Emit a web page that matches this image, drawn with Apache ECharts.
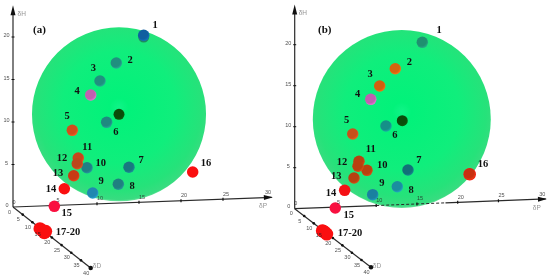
<!DOCTYPE html>
<html><head><meta charset="utf-8">
<style>html,body{margin:0;padding:0;background:#fff}#c{width:550px;height:276px}</style>
<script src="https://cdn.jsdelivr.net/npm/echarts@6/dist/echarts.min.js"></script>
</head><body><div id="c"></div>
<script>
// Point names
const names = ['1','2','3','4','5','6','7','8','9','10','11','12','13','14','15','16','','','','17-20'];
// Panel (a): projected dP position and dH value
const aP = [15.56,12.3,10.36,9.25,7.06,11.15,13.81,12.54,9.49,8.81,7.77,7.65,7.23,6.11,4.92,21.39,3.21,3.54,3.73,3.89];
const aH = [20.2,16.94,14.82,13.18,9.02,9.96,4.67,2.67,1.65,4.62,5.76,5.09,3.68,2.15,0.08,4.12,-2.55,-2.79,-3.02,-2.86];
const aColors = ['#0f5fa0','#20907f','#20907f','#c060b0','#d04e1c','#1f8a80','#187880','#1f8080','#2088b0','#207f85','#c8441c','#bc461c','#c83a14','#fa0f10','#fa1040','#fa0f10','#fa0f10','#fa0f10','#fa0f10','#fa0f10'];
const aOffsets = [[11.3,-10.3],[13.7,-3],[-6.7,-13],[-13.7,-4],[-5.3,-14.3],[9.3,10.2],[12,-6.6],[13.7,2.4],[8.3,-12],[13.7,-4.7],[9,-11],[-15.3,-5.7],[-15.7,-2.7],[-13.3,0.3],[12.4,6.7],[13.3,-9],[0,0],[0,0],[0,0],[22.3,0.7]];
// Panel (b)
const bP = [15.66,12.34,10.43,9.33,7.12,11.2,13.9,12.59,9.57,8.87,7.89,7.77,7.28,6.13,4.98,21.47,3.39,3.51,3.72,3.93];
const bH = [20.29,17.07,14.96,13.34,9.11,10.09,4.72,2.68,1.71,4.68,5.78,5.17,3.74,2.24,0.09,4.2,-2.68,-2.76,-2.88,-3.09];
const bColors = ['#1f9070','#d5640f','#d0600f','#c060b0','#c8501a','#159088','#127078','#1a8ea0','#1a80a0','#b84010','#b84010','#b84010','#b84010','#f51015','#f81040','#c83010','#fa0f10','#fa0f10','#fa0f10','#fa0f10'];
const bOffsets = [[16.7,-11.6],[14,-6],[-9.7,-11.3],[-13,-5.3],[-6,-13.3],[9,9.7],[11,-10],[13.7,3.3],[9.3,-11.7],[15.3,-5.3],[11.7,-11.6],[-16,-4.3],[-17.7,-2],[-13.7,2.7],[13.4,7.3],[13.3,-9.6],[0,0],[0,0],[0,0],[23.3,-1]];
// Solubility sphere centres / radius and centre balls
const aSphere = [12.62,10.9,10.36];
const bSphere = [13.14,10.94,10.92];
const aCentre = [12.62,10.9];
const bCentre = [13.2,10.73];
const aUnder = [15.56,20.0];
// Axis ticks
const hTicks = [5,10,15,20];
const pTicks = [10,15,20,25,30];
const pTicksMinor = [5];
const dTicks = [5,10,15,20,25,30,35,40];
// Axis geometry in axis units
const aPSlope = 0.037, bPSlope = 0.0386;
const aDStep = [1.156,-0.897], bDStep = [1.17,-0.894];
const aTop = 23.76, bTop = 24.9;

function ball(c){
  return {type:'radial',x:.42,y:.38,r:.62,colorStops:[{offset:0,color:c},{offset:.7,color:c},{offset:1,color:echarts.color.lift(c,-.2)}]};
}
const txt = (g,pts,opt)=>({type:'scatter',xAxisIndex:g,yAxisIndex:g,symbolSize:0,z:6,silent:true,
  data:pts.map(p=>({value:[p[0],p[1]],label:{show:true,position:'inside',formatter:p[2],offset:p[3]||[0,0],align:'center',verticalAlign:'middle',
    fontFamily:opt.f||'Liberation Sans',fontSize:opt.s||5.5,fontWeight:opt.w||'normal',color:opt.c||'#222'}}))});
const ln = (g,pts,w,dash)=>({type:'line',xAxisIndex:g,yAxisIndex:g,symbol:'none',silent:true,z:2,clip:false,data:pts,
  lineStyle:{color:'#2a2a2a',width:w||1.2,type:dash?[3,2]:'solid'}});

function panel(g,P,H,colors,offs,sph,centre,slope,dStep,top,tip,titles,dashed){
  const s=[];
  // sphere
  s.push({type:'custom',xAxisIndex:g,yAxisIndex:g,z:1,silent:true,clip:false,data:[sph],
    renderItem:(p,api)=>{
      const c=api.coord([api.value(0),api.value(1)]);
      const r=api.size([api.value(2),0])[0];
      return {type:'circle',shape:{cx:c[0],cy:c[1],r:r},style:{fill:{type:'radial',x:.5,y:.46,r:.54,colorStops:[
        {offset:0,color:'#10f488'},{offset:.1,color:'#02f27a'},{offset:.6,color:'#10ee7c'},{offset:.88,color:'#26e27a'},{offset:.98,color:'#38dc80'},{offset:1,color:'#70e4a0'}]}}};
    }});
  // dH axis
  s.push(ln(g,[[0,0],[0,top-1]]));
  s.push({type:'scatter',xAxisIndex:g,yAxisIndex:g,z:3,symbol:'triangle',symbolSize:[5,10],silent:true,itemStyle:{color:'#111',opacity:1},data:[[0,top-.6]]});
  s.push({type:'scatter',xAxisIndex:g,yAxisIndex:g,z:3,symbol:'rect',symbolSize:[3,1],silent:true,itemStyle:{color:'#111',opacity:1},data:hTicks.map(v=>[0,v])});
  s.push(txt(g,hTicks.map(v=>[0,v,String(v),[-6.5,-1.5]]),{}));
  // dP axis
  const py=v=>v*slope;
  if(dashed){
    s.push(ln(g,[[0,0],[dashed[0],py(dashed[0])]]));
    s.push(ln(g,[[dashed[0],py(dashed[0])],[dashed[1],py(dashed[1])]],1,true));
    s.push(ln(g,[[dashed[1],py(dashed[1])],[tip,py(tip)]]));
  } else s.push(ln(g,[[0,0],[tip,py(tip)]]));
  s.push({type:'scatter',xAxisIndex:g,yAxisIndex:g,z:3,symbol:'triangle',symbolSize:[5,9],symbolRotate:-88,silent:true,itemStyle:{color:'#111',opacity:1},data:[[tip-.4,py(tip-.4)]]});
  s.push({type:'scatter',xAxisIndex:g,yAxisIndex:g,z:3,symbol:'rect',symbolSize:[1.2,3],silent:true,itemStyle:{color:'#111',opacity:1},data:pTicks.concat(pTicksMinor).map(v=>[v,py(v)])});
  s.push(txt(g,pTicks.concat(pTicksMinor).map(v=>[v,py(v),String(v),[3,-5]]),{}));
  // dD axis
  const d=v=>[dStep[0]*v/5,dStep[1]*v/5];
  s.push(ln(g,[[0,0],d(40)]));
  s.push({type:'scatter',xAxisIndex:g,yAxisIndex:g,z:3,symbolSize:2.6,silent:true,itemStyle:{color:'#111',opacity:1},data:dTicks.map(d)});
  s.push({type:'scatter',xAxisIndex:g,yAxisIndex:g,z:3,symbolSize:4.5,silent:true,itemStyle:{color:'#111',opacity:1},data:[d(40)]});
  s.push(txt(g,dTicks.map(v=>[d(v)[0],d(v)[1],String(v),[-4.5,5]]),{}));
  s.push(txt(g,[[0,0,'0',[-6,-2]],[0,0,'0',[1,-5]],[0,0,'0',[-3.5,5]]],{}));
  s.push(txt(g,titles,{s:6.5,c:'#777'}));
  // centre ball
  s.push({type:'scatter',xAxisIndex:g,yAxisIndex:g,z:3,symbolSize:11,silent:true,itemStyle:{color:ball('#0a4c0a'),opacity:1},data:[centre]});
  // points
  s.push({type:'scatter',xAxisIndex:g,yAxisIndex:g,z:4,silent:true,clip:false,
    data:P.map((x,i)=>({value:[x,H[i]],symbolSize:i>=16?13:11.5,itemStyle:{opacity:1,color:i>=13&&colors[i].startsWith('#f')?colors[i]:ball(colors[i])},
      label:{show:!!names[i],position:'inside',formatter:names[i],offset:offs[i],color:'#111',fontFamily:'Liberation Serif',fontWeight:'bold',fontSize:10.5,align:'center',verticalAlign:'middle'}}))});
  return s;
}
const series=[].concat(
  panel(0,aP,aH,aColors,aOffsets,aSphere,aCentre,aPSlope,aDStep,aTop,30.8,[[1.04,22.67,'δH'],[29.76,0.12,'δP'],[10,-6.94,'δD']],null),
  panel(1,bP,bH,bColors,bOffsets,bSphere,bCentre,bPSlope,bDStep,bTop,30.8,[[1,23.8,'δH'],[29.7,0,'δP'],[10.1,-7,'δD']],[10,18.5])
);
series.push({type:'scatter',xAxisIndex:0,yAxisIndex:0,z:3,symbolSize:11,silent:true,itemStyle:{color:'#1f8a60',opacity:1},data:[aUnder]});
// rim of point 16 in panel b is drawn brighter
series.push({type:'scatter',xAxisIndex:1,yAxisIndex:1,z:3,symbolSize:12.5,silent:true,itemStyle:{color:'#fa1010',opacity:1},data:[[bP[15],bH[15]]]});

const ax=(i,min,max)=>({gridIndex:i,type:'value',min,max,show:false});
const chart=echarts.init(document.getElementById('c'),null,{renderer:'canvas'});
chart.setOption({
  animation:false,backgroundColor:'#fff',
  grid:[{left:13,top:3,width:268.8,height:272},{left:294.7,top:3.7,width:252.65,height:270.6}],
  xAxis:[ax(0,0,32),ax(1,0,31)],
  yAxis:[ax(0,-8,24),ax(1,-8,25)],
  graphic:[
    {type:'text',left:33,top:25,style:{text:'(a)',font:'bold 11px "Liberation Serif"',fill:'#111'}},
    {type:'text',left:318,top:25,style:{text:'(b)',font:'bold 11px "Liberation Serif"',fill:'#111'}}
  ],
  series
});
</script></body></html>
